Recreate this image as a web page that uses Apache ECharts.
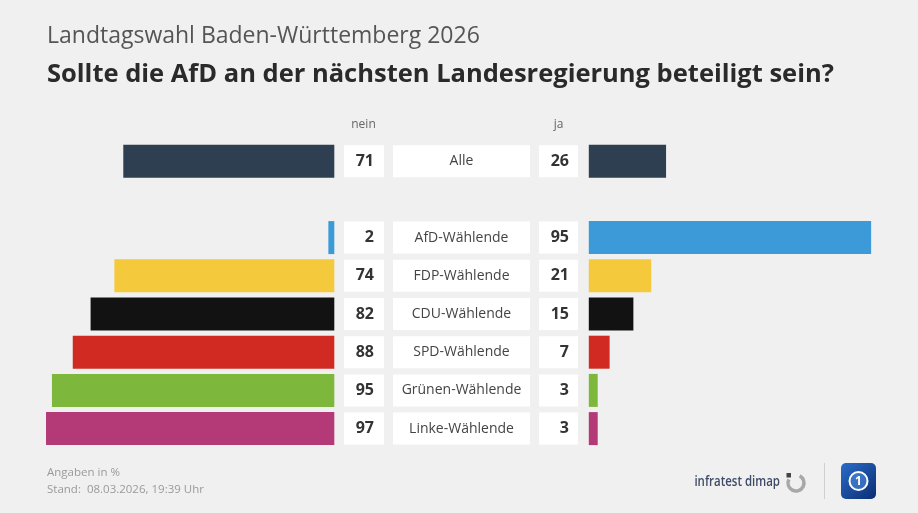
<!DOCTYPE html>
<html>
<head>
<meta charset="utf-8">
<script src="https://cdn.jsdelivr.net/npm/echarts@6/dist/echarts.min.js"></script>
<style>
html,body{margin:0;padding:0;background:#f0f0f0;}
#chart{width:918px;height:513px;}
</style>
</head>
<body>
<div id="chart"></div>
<script>
const categories = ['Alle', '', 'AfD-Wählende', 'FDP-Wählende', 'CDU-Wählende', 'SPD-Wählende', 'Grünen-Wählende', 'Linke-Wählende'];
const neinValues = [71, null, 2, 74, 82, 88, 95, 97];
const jaValues = [26, null, 95, 21, 15, 7, 3, 3];
const barColors = ['#2d3f51', null, '#3d9ad9', '#f4c93c', '#121212', '#d02a22', '#7db83c', '#b33a77'];
const titleText = 'Landtagswahl Baden-Württemberg 2026';
const subtitleText = 'Sollte die AfD an der nächsten Landesregierung beteiligt sein?';
const footnotes = ['Angaben in %', 'Stand:  08.03.2026, 19:39 Uhr'];

const FONT = "'Open Sans', sans-serif";

const chart = echarts.init(document.getElementById('chart'), null, {renderer: 'canvas'});

function toData(values) {
  return values.map((v, i) => v == null ? '-' : ({value: v, itemStyle: {color: barColors[i]}}));
}

const gridTop = 142.1, gridH = 305.6;
const unitW = 297.2; // 100 units

const numRich = {
  n: {width: 20, align: 'right', fontFamily: FONT, fontWeight: 'bold', fontSize: 16, color: '#333', lineHeight: 32}
};

chart.setOption({
  backgroundColor: '#f0f0f0',
  animation: false,
  grid: [
    {left: 334.3 - unitW, top: gridTop, width: unitW, height: gridH, containLabel: false},
    {left: 588.8, top: gridTop, width: unitW, height: gridH, containLabel: false}
  ],
  xAxis: [
    {gridIndex: 0, type: 'value', min: 0, max: 100, inverse: true, show: false},
    {gridIndex: 1, type: 'value', min: 0, max: 100, show: false}
  ],
  yAxis: [
    {gridIndex: 0, type: 'category', data: categories, inverse: true, position: 'right',
      axisLine: {show: false}, axisTick: {show: false}, splitLine: {show: false},
      axisLabel: {
        margin: 58.7,
        formatter: v => v ? '{c|' + v + '}' : '',
        rich: {c: {width: 137, height: 32, lineHeight: 32, align: 'center', backgroundColor: '#fff',
          fontFamily: FONT, fontSize: 14, color: '#444'}}
      }},
    {gridIndex: 1, type: 'category', data: categories, inverse: true, show: false}
  ],
  series: [
    {type: 'bar', xAxisIndex: 0, yAxisIndex: 0, data: toData(neinValues), barWidth: 33,
      label: {show: true, position: 'right', distance: 9.7,
        formatter: p => '{n|' + p.value + '}',
        backgroundColor: '#fff', padding: [0, 10, 0, 10], height: 32, rich: numRich}},
    {type: 'bar', xAxisIndex: 1, yAxisIndex: 1, data: toData(jaValues), barWidth: 33,
      label: {show: true, position: 'left', distance: 10.8,
        formatter: p => '{n|' + p.value + '}',
        backgroundColor: '#fff', padding: [0, 9, 0, 10], height: 32, rich: numRich}}
  ],
  graphic: [
    {type: 'text', style: {text: titleText, x: 47, y: 36, verticalAlign: 'middle', fontFamily: FONT, fontSize: 23, fill: '#555'}},
    {type: 'text', style: {text: subtitleText, x: 47, y: 75, verticalAlign: 'middle', fontFamily: FONT, fontWeight: 'bold', fontSize: 25.5, fill: '#2a2a2a'}},
    {type: 'text', style: {text: 'nein', x: 363.5, y: 125, align: 'center', verticalAlign: 'middle', fontFamily: FONT, fontSize: 12, fill: '#666'}},
    {type: 'text', style: {text: 'ja', x: 558.5, y: 125, align: 'center', verticalAlign: 'middle', fontFamily: FONT, fontSize: 12, fill: '#666'}},
    {type: 'text', style: {text: footnotes[0], x: 47, y: 473, verticalAlign: 'middle', fontFamily: FONT, fontSize: 11.5, fill: '#9a9a9a'}},
    {type: 'text', style: {text: footnotes[1], x: 47, y: 490, verticalAlign: 'middle', fontFamily: FONT, fontSize: 11.5, fill: '#9a9a9a'}},
    {type: 'text', x: 780, y: 482, scaleX: 0.85, style: {text: 'infratest dimap', x: 0, y: 0, align: 'right', verticalAlign: 'middle', fontFamily: FONT, fontWeight: 600, fontSize: 13.5, fill: '#3d4b66'}},
    {type: 'arc', shape: {cx: 796, cy: 483, r: 8, startAngle: -Math.PI * 0.35, endAngle: Math.PI * 1.15}, style: {stroke: '#a8a8a8', lineWidth: 3.5, fill: null}},
    {type: 'rect', shape: {x: 786.5, y: 473, width: 4.5, height: 4.5}, style: {fill: '#444'}},
    {type: 'line', shape: {x1: 824.5, y1: 463, x2: 824.5, y2: 499}, style: {stroke: '#cfcfcf', lineWidth: 1}},
    {type: 'rect', shape: {x: 841, y: 463, width: 35, height: 36, r: 5},
      style: {fill: new echarts.graphic.LinearGradient(0, 0, 1, 1, [{offset: 0, color: '#2a6cc8'}, {offset: 1, color: '#0b2d73'}])}},
    {type: 'circle', shape: {cx: 858.5, cy: 481, r: 9}, style: {fill: 'rgba(90,150,230,0.5)', stroke: '#ffffff', lineWidth: 2}},
    {type: 'text', style: {text: '1', x: 858.5, y: 481.5, align: 'center', verticalAlign: 'middle', fontFamily: FONT, fontWeight: 'bold', fontSize: 12, fill: '#ffffff'}}
  ]
});
</script>
</body>
</html>
